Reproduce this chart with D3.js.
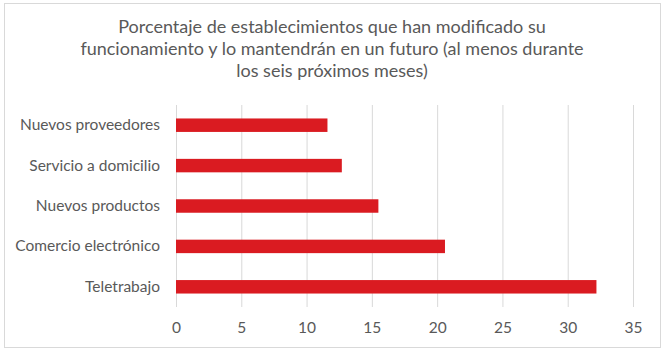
<!DOCTYPE html>
<html>
<head>
<meta charset="utf-8">
<script src="https://cdn.jsdelivr.net/npm/d3@7"></script>
<style>
  body { margin: 0; background: #fff; }
  svg { display: block; }
  text { font-family: Lato, "Open Sans", sans-serif; fill: #595959; }
</style>
</head>
<body>
<div id="chart"></div>
<script>
const titleLines = [
  "Porcentaje de establecimientos que han modificado su",
  "funcionamiento y lo mantendrán en un futuro (al menos durante",
  "los seis próximos meses)"
];
const categories = ["Nuevos proveedores", "Servicio a domicilio", "Nuevos productos", "Comercio electrónico", "Teletrabajo"];
const values = [11.6, 12.7, 15.5, 20.6, 32.2];
const xTicks = [0, 5, 10, 15, 20, 25, 30, 35];

const W = 663, H = 353;
const svg = d3.select("#chart").append("svg").attr("width", W).attr("height", H);

svg.append("rect")
  .attr("x", 4.5).attr("y", 3.5).attr("width", 656).attr("height", 344)
  .attr("fill", "#fff").attr("stroke", "#d9d9d9").attr("stroke-width", 1);

const x = d3.scaleLinear().domain([0, 35]).range([176, 633]);
const y = d3.scaleBand().domain(categories).range([105, 307]).paddingInner(2/3).paddingOuter(1/3);

// title
svg.append("g").selectAll("text").data(titleLines).join("text")
  .attr("x", 332).attr("y", (d, i) => 33 + i * 22)
  .attr("text-anchor", "middle")
  .style("font-size", "18px")
  .text(d => d);

// gridlines
svg.append("g").selectAll("line").data(xTicks).join("line")
  .attr("x1", d => x(d) + 0.5).attr("x2", d => x(d) + 0.5)
  .attr("y1", 105).attr("y2", 307)
  .attr("stroke", "#d9d9d9").attr("stroke-width", 1);

// bars
svg.append("g").selectAll("rect").data(categories).join("rect")
  .attr("x", x(0))
  .attr("y", d => y(d))
  .attr("width", (d, i) => x(values[i]) - x(0))
  .attr("height", y.bandwidth())
  .attr("fill", "#da1b21");

// y axis labels
const yAxis = d3.axisLeft(y).tickSize(0).tickPadding(16);
const gy = svg.append("g").attr("transform", `translate(${x(0)},0)`).call(yAxis);
gy.select(".domain").remove();
gy.selectAll("text").style("font-size", "15.5px").style("fill", "#595959").attr("font-family", null);

// x axis labels
const xAxis = d3.axisBottom(x).tickValues(xTicks).tickSize(0).tickPadding(10);
const gx = svg.append("g").attr("transform", `translate(0,${312})`).call(xAxis);
gx.select(".domain").remove();
gx.selectAll("text").style("font-size", "15.5px").style("fill", "#595959").attr("font-family", null);
</script>
</body>
</html>
